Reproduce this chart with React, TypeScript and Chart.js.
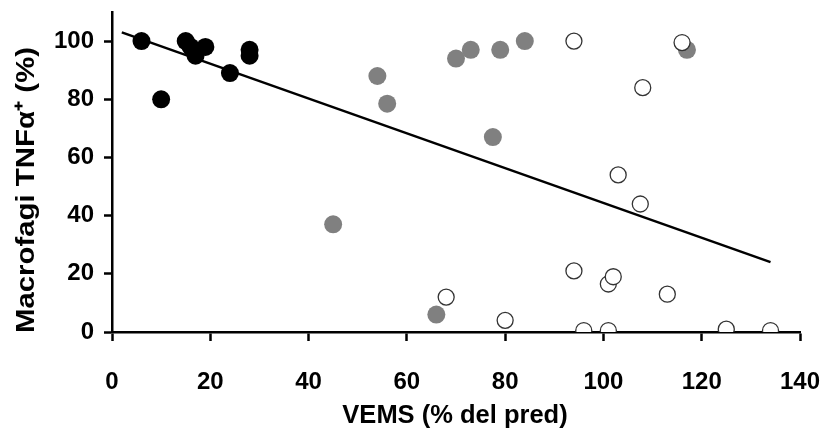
import React, { useEffect, useRef } from "react";
import { Chart, registerables } from "chart.js";

Chart.register(...registerables);

// Black group (severe)
const blackX = [6, 10, 15, 16, 17, 19, 24, 28, 28];
const blackY = [100, 80, 100, 98, 95, 98, 89, 97, 95];
// Gray group
const grayX = [45, 54, 56, 66, 70, 73, 77.5, 79, 84, 117];
const grayY = [37, 88, 78.5, 6, 94, 97, 67, 97, 100, 97];
// Open group
const openX = [68, 80, 94, 94, 96, 101, 101, 102, 103, 107.5, 108, 113, 116, 125, 134];
const openY = [12, 4, 100, 21, 0.5, 0.5, 16.5, 19, 54, 44, 84, 13, 99.5, 1, 0.5];
// Regression line end points
const lineX = [2, 134];
const lineY = [103, 24];

const xTitle = "VEMS (% del pred)";
const yTitle = "Macrofagi TNFα⁺ (%)";
const xTicks = [0, 20, 40, 60, 80, 100, 120, 140];
const yTicks = [0, 20, 40, 60, 80, 100];

const toPts = (xs: number[], ys: number[]) => xs.map((x, i) => ({ x, y: ys[i] }));

const FONT = "'Liberation Sans', Arial, sans-serif";

export default function App() {
  const ref = useRef<HTMLCanvasElement | null>(null);
  useEffect(() => {
    const canvas = ref.current;
    if (!canvas) return;
    const titlePlugin = {
      id: "axisTitles",
      afterDraw(chart: any) {
        const ctx = chart.ctx;
        ctx.save();
        ctx.fillStyle = "#000";
        ctx.textAlign = "center";
        ctx.textBaseline = "middle";
        ctx.font = `bold 25.5px ${FONT}`;
        ctx.fillText(xTitle, 455, 416);
        ctx.font = `bold 26px ${FONT}`;
        ctx.translate(27, 190);
        ctx.rotate(-Math.PI / 2);
        ctx.scale(1.13, 1);
        ctx.fillText(yTitle, 0, 0);
        ctx.restore();
      },
    };
    const chart = new Chart(canvas, {
      type: "scatter",
      data: {
        datasets: [
          {
            type: "line",
            data: toPts(lineX, lineY),
            borderColor: "#000",
            borderWidth: 2.5,
            pointRadius: 0,
            showLine: true,
            fill: false,
            order: 0,
          } as any,
          {
            data: toPts(openX, openY),
            backgroundColor: "#ffffff",
            borderColor: "#333333",
            borderWidth: 1.3,
            pointRadius: 8,
            order: 1,
          },
          {
            data: toPts(blackX, blackY),
            backgroundColor: "#000000",
            borderColor: "#000000",
            borderWidth: 0,
            pointRadius: 9,
            order: 2,
          },
          {
            data: toPts(grayX, grayY),
            backgroundColor: "#808080",
            borderColor: "#808080",
            borderWidth: 0,
            pointRadius: 9,
            order: 3,
          },
        ],
      },
      options: {
        animation: false,
        responsive: false,
        events: [],
        layout: { padding: { top: 12, right: 24, left: 0, bottom: 0 } },
        plugins: { legend: { display: false }, tooltip: { enabled: false } },
        elements: { point: { hitRadius: 0 } },
        scales: {
          x: {
            type: "linear",
            min: 0,
            max: 140,
            afterBuildTicks: (s: any) => {
              s.ticks = xTicks.map((v) => ({ value: v }));
            },
            afterFit: (s: any) => {
              s.height = 98;
              s.paddingLeft = 0;
              s.paddingRight = 0;
            },
            border: { display: true, color: "#000", width: 2.5 },
            grid: {
              display: true,
              drawOnChartArea: false,
              drawTicks: true,
              tickLength: 9,
              tickColor: "#000",
              tickWidth: 2.5,
            },
            ticks: {
              color: "#000",
              font: { family: FONT, size: 24, weight: "bold" },
              padding: 27,
              maxRotation: 0,
            },
          },
          y: {
            type: "linear",
            min: 0,
            max: 110,
            afterBuildTicks: (s: any) => {
              s.ticks = yTicks.map((v) => ({ value: v }));
            },
            afterFit: (s: any) => {
              s.width = 112;
              s.paddingTop = 0;
              s.paddingBottom = 0;
            },
            border: { display: true, color: "#000", width: 2.5 },
            grid: {
              display: true,
              drawOnChartArea: false,
              drawTicks: true,
              tickLength: 8,
              tickColor: "#000",
              tickWidth: 2.5,
            },
            ticks: {
              color: "#000",
              font: { family: FONT, size: 24, weight: "bold" },
              padding: 10,
            },
          },
        },
      },
      plugins: [titlePlugin],
    } as any);
    return () => chart.destroy();
  }, []);
  return (
    <div style={{ position: "fixed", left: 0, top: 0, width: 824, height: 430, background: "#fff" }}>
      <canvas ref={ref} width={824} height={430} style={{ display: "block", width: 824, height: 430 }} />
    </div>
  );
}
